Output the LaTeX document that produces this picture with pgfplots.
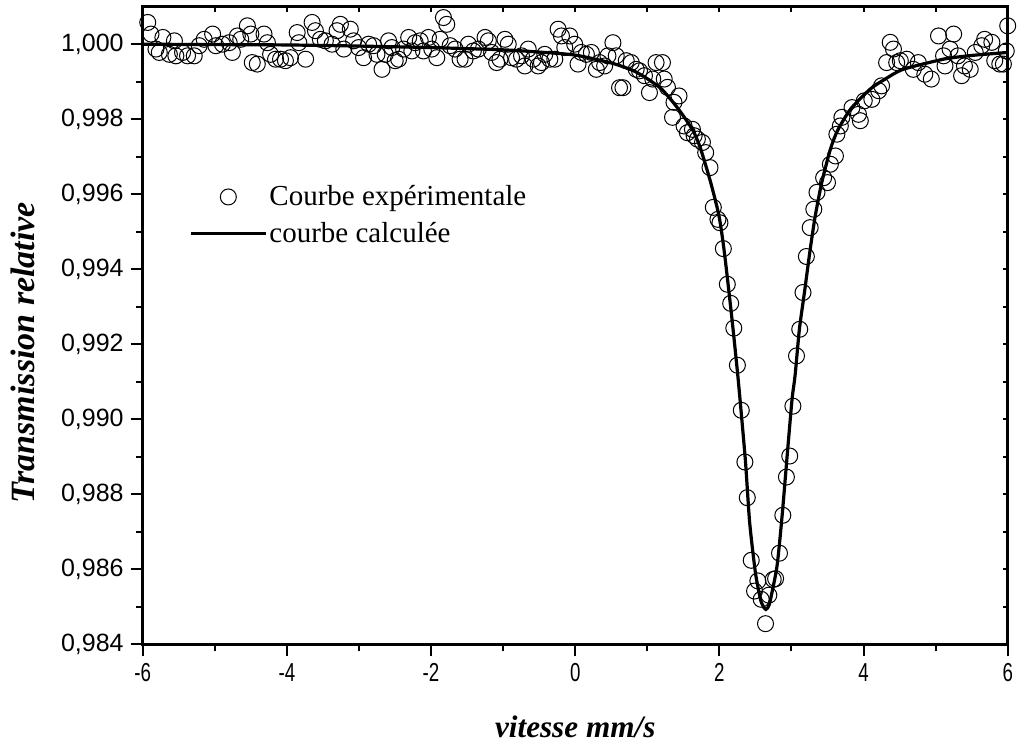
\documentclass[border=0pt]{standalone}
\usepackage{fontspec}
\setmainfont{Liberation Serif}
\newfontfamily\arialfont{Liberation Sans}
\usepackage{pgfplots}
\pgfplotsset{compat=1.18}

\pgfplotstableread{
x y
-5.930 1.00058
-5.885 1.00027
-5.816 0.99987
-5.770 0.99978
-5.720 1.00018
-5.630 0.99973
-5.560 1.00009
-5.540 0.99969
-5.447 0.99978
-5.378 0.99969
-5.285 0.99969
-5.216 0.99996
-5.147 1.00013
-5.030 1.00027
-4.986 0.99996
-4.894 1.00000
-4.800 1.00004
-4.756 0.99978
-4.687 1.00022
-4.640 1.00013
-4.548 1.00049
-4.500 1.00027
-4.480 0.99951
-4.410 0.99947
-4.317 1.00027
-4.270 1.00004
-4.226 0.99973
-4.157 0.99960
-4.088 0.99960
-4.020 0.99956
-3.950 0.99964
-3.857 1.00031
-3.834 1.00004
-3.740 0.99960
-3.650 1.00058
-3.604 1.00036
-3.535 1.00013
-3.466 1.00009
-3.373 1.00000
-3.304 1.00036
-3.258 1.00053
-3.210 0.99987
-3.120 1.00040
-3.074 1.00009
-3.005 0.99991
-2.936 0.99964
-2.866 1.00000
-2.797 0.99996
-2.750 0.99973
-2.680 0.99933
-2.635 0.99973
-2.589 1.00009
-2.543 0.99991
-2.497 0.99956
-2.450 0.99960
-2.380 0.99987
-2.310 1.00018
-2.266 0.99982
-2.220 1.00004
-2.150 1.00009
-2.105 0.99982
-2.036 1.00018
-1.990 0.99987
-1.920 0.99964
-1.874 1.00013
-1.828 1.00071
-1.782 1.00053
-1.735 0.99996
-1.666 0.99987
-1.597 0.99960
-1.528 0.99960
-1.482 1.00000
-1.413 0.99982
-1.343 0.99987
-1.251 1.00018
-1.205 1.00009
-1.160 0.99978
-1.090 0.99951
-1.044 0.99960
-0.975 1.00013
-0.929 1.00000
-0.883 0.99964
-0.814 0.99960
-0.745 0.99969
-0.699 0.99942
-0.652 0.99987
-0.583 0.99960
-0.514 0.99942
-0.468 0.99951
-0.422 0.99973
-0.352 0.99960
-0.283 0.99960
-0.237 1.00040
-0.191 1.00022
-0.145 0.99991
-0.076 1.00022
-0.007 1.00000
0.039 0.99947
0.085 0.99978
0.155 0.99973
0.224 0.99978
0.293 0.99933
0.339 0.99951
0.408 0.99942
0.454 0.99969
0.523 1.00004
0.569 0.99969
0.615 0.99884
0.662 0.99884
0.708 0.99956
0.777 0.99951
0.846 0.99933
0.892 0.99929
0.961 0.99916
1.030 0.99871
1.076 0.99907
1.122 0.99951
1.210 0.99951
1.235 0.99907
1.280 0.99885
1.350 0.99805
1.370 0.99845
1.440 0.99862
1.510 0.99782
1.556 0.99764
1.626 0.99773
1.650 0.99756
1.695 0.99747
1.765 0.99738
1.810 0.99711
1.870 0.99671
1.916 0.99565
1.980 0.99533
2.008 0.99524
2.055 0.99455
2.110 0.99360
2.157 0.99309
2.200 0.99243
2.250 0.99144
2.304 0.99024
2.354 0.98886
2.387 0.98791
2.442 0.98624
2.488 0.98542
2.534 0.98569
2.580 0.98520
2.640 0.98455
2.686 0.98531
2.747 0.98573
2.780 0.98575
2.834 0.98643
2.880 0.98744
2.930 0.98846
2.976 0.98902
3.020 0.99035
3.070 0.99169
3.115 0.99240
3.160 0.99338
3.207 0.99434
3.260 0.99511
3.310 0.99560
3.354 0.99605
3.446 0.99644
3.500 0.99631
3.540 0.99680
3.610 0.99702
3.630 0.99760
3.678 0.99782
3.700 0.99805
3.840 0.99831
3.930 0.99813
3.955 0.99796
4.010 0.99849
4.115 0.99853
4.210 0.99876
4.250 0.99889
4.320 0.99951
4.370 1.00005
4.415 0.99987
4.460 0.99951
4.510 0.99956
4.600 0.99960
4.690 0.99933
4.760 0.99951
4.850 0.99920
4.940 0.99907
5.040 1.00022
5.110 0.99969
5.130 0.99942
5.200 0.99987
5.250 1.00027
5.310 0.99969
5.360 0.99916
5.400 0.99942
5.480 0.99933
5.550 0.99978
5.640 0.99996
5.680 1.00013
5.780 1.00005
5.820 0.99956
5.890 0.99947
5.940 0.99947
5.980 0.99982
6.000 1.00049
}\expdata

\pgfplotstableread{
x y
-6.00 1.00000
-5.00 0.99999
-4.00 0.99998
-3.00 0.99995
-2.00 0.99991
-1.00 0.99985
-0.50 0.99979
0.00 0.99971
0.50 0.99950
0.80 0.99930
1.00 0.99908
1.20 0.99880
1.40 0.99835
1.55 0.99795
1.65 0.99764
1.742 0.99720
1.88 0.99631
1.995 0.99542
2.064 0.99453
2.134 0.99338
2.19 0.99240
2.256 0.99116
2.30 0.99024
2.363 0.98885
2.42 0.98725
2.50 0.98591
2.57 0.98520
2.60 0.98505
2.62 0.98497
2.645 0.98493
2.67 0.98497
2.69 0.98505
2.71 0.98520
2.80 0.98609
2.87 0.98742
2.94 0.98902
3.008 0.99053
3.05 0.99116
3.11 0.99240
3.18 0.99338
3.26 0.99453
3.33 0.99542
3.42 0.99631
3.54 0.99720
3.64 0.99770
3.82 0.99827
4.09 0.99880
4.30 0.99907
4.55 0.99933
5.11 0.99960
5.50 0.99970
6.00 0.99978
}\calcdata

\begin{document}
\begin{tikzpicture}
\begin{axis}[
  scale only axis, width=432.5pt, height=318.8pt,
  xmin=-6, xmax=6, ymin=0.984, ymax=1.001,
  scaled y ticks=false, scaled x ticks=false,
  xtick={-6,-4,-2,0,2,4,6},
  xticklabels={\scalebox{0.72}[1]{-6},\scalebox{0.72}[1]{-4},\scalebox{0.72}[1]{-2},\scalebox{0.72}[1]{0},\scalebox{0.72}[1]{2},\scalebox{0.72}[1]{4},\scalebox{0.72}[1]{6}},
  minor xtick={-5,-3,-1,1,3,5},
  ytick={0.984,0.986,0.988,0.990,0.992,0.994,0.996,0.998,1.000},
  yticklabels={{0,984},{0,986},{0,988},{0,990},{0,992},{0,994},{0,996},{0,998},{1,000}},
  minor ytick={0.985,0.987,0.989,0.991,0.993,0.995,0.997,0.999},
  xtick pos=left, ytick pos=left, tick align=outside,
  major tick length=6pt, minor tick length=3.5pt,
  tick style={black, line width=1pt},
  axis line style={line width=1.3pt},
  yticklabel style={font=\arialfont\fontsize{12.5}{14}\selectfont},
  xticklabel style={font=\arialfont\fontsize{13}{14}\selectfont},
  xlabel={vitesse mm/s}, ylabel={Transmission relative},
  xlabel style={font=\bfseries\itshape\fontsize{15.6}{18}\selectfont, at={(axis description cs:0.5,-0.1454)}, anchor=base},
  ylabel style={font=\bfseries\itshape\fontsize{17}{20}\selectfont, at={(axis description cs:-0.139,0.457)}, anchor=center},
  legend style={at={(axis cs:-5.36,0.9963)}, anchor=north west, draw=none, fill=none, inner sep=0pt,
    font=\fontsize{14.5}{16}\selectfont, row sep=4.8pt, column sep=0pt, nodes={inner sep=1pt}},
  legend cell align=left,
]
\coordinate (bl) at (rel axis cs:0,0);
\coordinate (tr) at (rel axis cs:1,1);
\addplot[only marks, mark=o, mark size=4pt, mark options={line width=0.5pt, black},
  legend image code/.code={\path (0pt,0pt) (37.5pt,0pt); \draw[black] plot[only marks, mark=o, mark size=4pt, mark options={line width=0.5pt}] coordinates {(18.75pt,0pt)};}]
  table[x=x,y=y] {\expdata};
\addlegendentry{Courbe expérimentale}
\addplot[black, line width=1.6pt, smooth, tension=0.4, no markers,
  legend image code/.code={\draw[black, line width=1.6pt] (0pt,0pt) -- (37.5pt,0pt);}]
  table[x=x,y=y] {\calcdata};
\addlegendentry{courbe calculée}
\end{axis}
\begin{axis}[
  scale only axis, width=432.5pt, height=318.8pt,
  xmin=-6, xmax=6, ymin=0.984, ymax=1.001,
  scaled y ticks=false, scaled x ticks=false,
  xtick={-5,-4,-3,-2,-1,0,1,2,3,4,5},
  ytick={0.985,0.986,0.987,0.988,0.989,0.990,0.991,0.992,0.993,0.994,0.995,0.996,0.997,0.998,0.999,1.000},
  xticklabels={}, yticklabels={},
  xtick pos=right, ytick pos=right, tick align=inside,
  major tick length=2.5pt,
  tick style={black, line width=1pt},
  axis line style={line width=1.3pt},
]
\end{axis}
\pgfresetboundingbox
\path[use as bounding box] ([shift={(-71.35pt,-49.85pt)}]bl) rectangle ([shift={(5.15pt,3.35pt)}]tr);
\end{tikzpicture}
\end{document}
